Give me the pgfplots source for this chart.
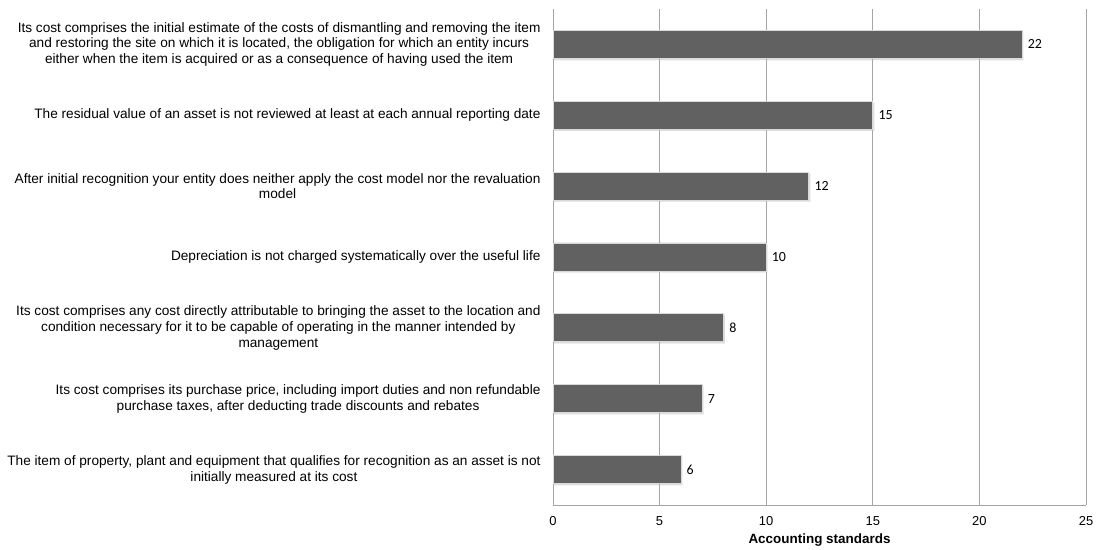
\documentclass[border=0pt]{standalone}
\usepackage{pgfplots}
\pgfplotsset{compat=1.18}
\usepackage{fontspec}
\setmainfont{Liberation Sans}
\newfontfamily\calib{Carlito}
\usetikzlibrary{shadows}
\definecolor{barfill}{RGB}{97,97,97}
\definecolor{gridc}{RGB}{165,165,165}
\begin{document}
\begin{tikzpicture}
\useasboundingbox (0,0) rectangle (1108bp,550bp);
\begin{axis}[
  at={(553bp,45bp)}, anchor=south west,
  scale only axis, width=533bp, height=496bp,
  xbar, bar width=28bp,
  xmin=0, xmax=25, xtick={0,5,10,15,20,25},
  ymin=-0.5, ymax=6.5, ytick={0,...,6},
  yticklabels={
    {The item of property, plant and equipment that qualifies for recognition as an asset is not\\initially measured at its cost},
    {Its cost comprises its purchase price, including import duties and non refundable\\purchase taxes, after deducting trade discounts and rebates},
    {Its cost comprises any cost directly attributable to bringing the asset to the location and\\condition necessary for it to be capable of operating in the manner intended by\\management},
    {Depreciation is not charged systematically over the useful life},
    {After initial recognition your entity does neither apply the cost model nor the revaluation\\model},
    {The residual value of an asset is not reviewed at least at each annual reporting date},
    {Its cost comprises the initial estimate of the costs of dismantling and removing the item\\and restoring the site on which it is located, the obligation for which an entity incurs\\either when the item is acquired or as a consequence of having used the item}
  },
  yticklabel style={align=center, font=\fontsize{13.7}{16}\selectfont, xshift=-9bp},
  xticklabel style={font=\fontsize{13}{15}\selectfont, yshift=-8bp},
  /pgf/number format/assume math mode=true,
  major tick length=0pt,
  axis x line*=bottom, axis y line*=left,
  axis line style={draw=gridc, line width=0.9bp},
  xmajorgrids, major grid style={draw=gridc, line width=0.9bp},
  xlabel={\textbf{Accounting standards}},
  xlabel style={font=\fontsize{13.5}{15}\selectfont, yshift=-1bp},
  nodes near coords,
  nodes near coords style={font=\calib\fontsize{14}{16}\selectfont, anchor=west, xshift=2bp, text=black},
]
\addplot[fill=barfill, draw=white!85!black, line width=0.8bp,
  drop shadow={shadow xshift=1.2bp, shadow yshift=-1.5bp, opacity=0.25}]
  coordinates {(6,0) (7,1) (8,2) (10,3) (12,4) (15,5) (22,6)};
\end{axis}
\end{tikzpicture}
\end{document}
